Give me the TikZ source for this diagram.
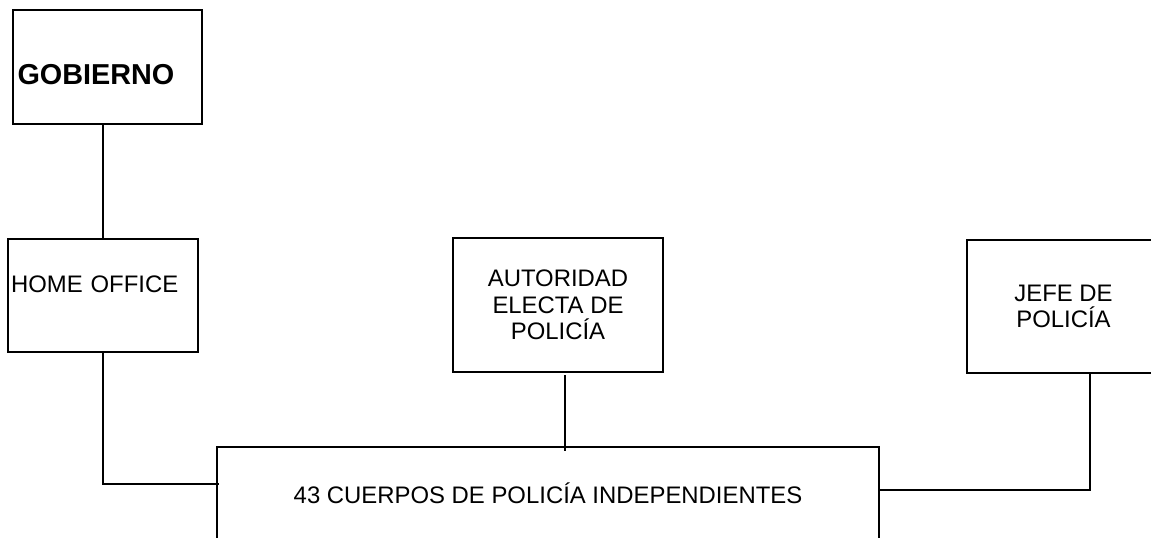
\documentclass[tikz,border=0pt]{standalone}
\usepackage{fontspec}
\setmainfont{Liberation Sans}
\usepackage{tikz}
\usetikzlibrary{arrows,calc,positioning}

\begin{document}
\begin{tikzpicture}[
x=0.02cm, y=-0.02cm,
orgbox/.style={rectangle, draw=black, fill=white, line width=1.6pt, inner sep=0pt, font=\fontsize{13.6}{15.1}\selectfont},
link/.style={draw=black, line width=1.2pt},
thinlink/.style={draw=black, line width=0.7pt},
]
\useasboundingbox (0,0) rectangle (1151,537);
\clip (0,0) rectangle (1151,537);

%Nodes
\node[orgbox, minimum width=3.78cm, minimum height=2.28cm, inner xsep=0.09cm, text width=3.6cm, align=left,
      text height=0.72cm, text depth=0pt, font=\fontsize{16.4}{18}\selectfont\bfseries]
      (gobierno)   at (107.5,67)  {GOBIERNO};
\node[orgbox, minimum width=3.8cm, minimum height=2.26cm, inner xsep=0.06cm, text width=3.68cm, align=left,
      text height=0.35cm, text depth=0.48cm]
      (homeoffice) at (103,295.5) {HOME OFFICE};
\node[orgbox, minimum width=4.2cm, minimum height=2.68cm, align=center]
      (autoridad)  at (558,305)   {AUTORIDAD\\ELECTA DE\\POLIC\'IA};
\node[orgbox, minimum width=3.86cm, minimum height=2.66cm, align=center]
      (jefe)       at (1063.5,306.5) {JEFE DE\\POLIC\'IA};
\node[orgbox, minimum width=13.24cm, minimum height=1.84cm]
      (cuerpos)    at (548,493)   {43 CUERPOS DE POLIC\'IA INDEPENDIENTES};

%Lines
\draw[link] (homeoffice.north) -- (homeoffice.north |- gobierno.south);
\draw[link] (homeoffice.south) |- ([yshift=0.18cm,xshift=0.06cm]cuerpos.west);
\draw[thinlink] ([xshift=0.14cm,yshift=-0.04cm]autoridad.south) -- ([xshift=0.14cm,yshift=-0.1cm]autoridad.south |- cuerpos.north);
\draw[link] ([yshift=0.06cm]cuerpos.east) -| ([xshift=0.53cm]jefe.south);
\end{tikzpicture}
\end{document}
